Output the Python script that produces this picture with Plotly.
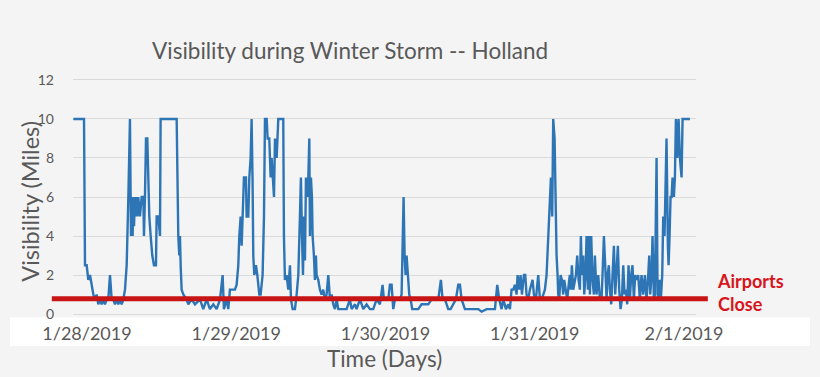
import plotly.graph_objects as go

# ---------------- data ----------------
# time in hours relative to 1/28/2019 00:00, visibility in miles
seg1_hours = [-2.2, -0.48, -0.32, -0.05, 0.21, 0.48, 0.75, 1.02, 1.29, 1.55,
              1.82, 2.09, 2.36, 2.63, 2.89, 3.16, 3.43, 3.70, 3.97, 4.23,
              4.50, 4.77, 5.04, 5.31, 5.57, 5.84, 6.11, 6.38, 6.65, 6.91,
              7.07, 7.18, 7.34, 7.45, 7.56, 7.72, 7.88, 7.98, 8.09, 8.25,
              8.52, 8.79, 9.06, 9.16, 9.32, 9.49, 9.70, 9.86, 10.02, 10.24,
              10.50, 10.77, 11.09, 11.20, 11.47, 11.74, 11.84, 14.42, 14.52, 14.68,
              14.84, 14.95, 15.06, 15.22, 15.49, 16.02, 16.29, 16.83, 17.36, 18.17,
              18.70, 19.24, 19.77, 20.31, 20.85, 21.39]
seg1_vis = [10, 10, 2.5, 2.5, 1.75, 2, 1.5, 1, 0.75, 1,
            0.5, 0.75, 0.5, 0.75, 0.5, 0.75, 0.75, 2, 0.75, 0.75,
            0.5, 0.75, 0.5, 0.75, 0.5, 0.75, 1.25, 2.5, 6, 10,
            4, 6, 4, 6, 4.5, 6, 5, 6, 5, 6,
            5, 6, 6, 4, 6, 9, 9, 7, 5, 4,
            3, 2.5, 2.5, 5, 5, 4, 10, 10, 6, 4,
            3, 4, 2.5, 1.25, 1, 0.75, 0.5, 0.75, 0.5, 0.75,
            0.25, 0.75, 0.25, 0.5, 0.25, 0.75]

seg2_hours = [21.81, 22.02, 22.45, 22.72, 22.99, 23.26, 23.79, 24.06, 24.33, 24.49,
              24.71, 24.87, 25.03, 25.24, 25.56, 25.67, 25.94, 26.10, 26.31, 26.47,
              26.63, 26.74, 26.90, 27.17, 27.39, 27.71, 27.92, 28.24, 28.46, 28.62,
              28.89, 29.05, 29.31, 29.53, 29.69, 29.85, 30.07, 30.23, 30.50, 30.76,
              31.56, 31.67, 31.83, 32.10, 32.37, 32.64, 32.80, 33.07, 33.44, 33.71,
              33.98, 34.24, 34.40, 34.57, 34.73, 34.89, 35.05, 35.21, 35.42, 35.59,
              35.75, 35.85, 36.01, 36.17, 36.28, 36.49, 36.65, 36.81, 36.92, 37.19,
              37.46, 37.73, 37.99, 38.26, 38.53, 38.80, 39.07, 39.33, 39.60, 39.87,
              40.14, 40.41, 40.68, 41.75, 42.28, 42.55, 43.09, 43.35, 43.89, 44.43,
              44.96, 45.50, 46.03, 46.57, 47.10]
seg2_vis = [2, 0.25, 0.75, 0.25, 1.25, 1.25, 1.25, 1.5, 2.5, 4,
            5, 3.5, 5, 7, 7, 5, 5, 7, 8, 10,
            6.7, 3, 2, 2.5, 2, 1, 1, 2, 5, 10,
            10, 9, 9, 7, 8, 7, 6, 9, 8, 10,
            10, 4, 1.75, 2, 1.25, 2.5, 0.75, 0.25, 0.25, 1,
            2, 5, 7, 4, 2, 5, 2.75, 7, 6, 7,
            9, 4, 7, 6, 4, 3, 1.75, 3, 2, 1.75,
            1.25, 1, 1.25, 0.75, 1, 2, 0.75, 1, 0.5, 0.25,
            0.75, 0.25, 0.25, 0.25, 0.75, 0.25, 0.5, 0.25, 0.75, 0.25,
            0.5, 0.25, 0.25, 0.75, 0.5]

seg3_hours = [47.53, 47.75, 48.18, 48.45, 48.71, 48.98, 49.25, 49.52, 50.06, 50.32,
              50.59, 50.75, 50.91, 51.07, 51.23, 51.39, 51.66, 51.82, 52.04, 52.30,
              52.73, 53.27, 53.80, 54.34, 54.88, 55.41, 55.95, 56.49, 56.91, 57.18,
              57.56, 58.09, 58.47, 58.90, 59.32, 59.70, 59.97, 60.24, 60.50, 60.77,
              61.31, 61.85, 62.38, 62.92, 63.45, 64.26, 65.07, 65.60, 65.97, 66.29,
              66.67, 66.94, 67.37, 67.74, 68.01, 68.27, 68.54, 68.81, 69.08, 69.24,
              69.51, 69.72, 69.94, 70.26, 70.47, 70.68, 70.95, 71.22, 71.65, 71.86,
              72.18, 72.56, 72.83]
seg3_vis = [1.5, 0.75, 0.75, 0.75, 1.5, 1.5, 0.25, 0.75, 0.75, 0.75,
            1, 3, 6, 3, 2, 3, 2, 1, 0.75, 0.25,
            0.25, 0.25, 0.5, 0.5, 0.5, 0.75, 0.75, 0.75, 1.75, 0.75,
            0.75, 0.25, 0.25, 0.5, 0.75, 1.5, 1.5, 0.75, 0.5, 0.25,
            0.25, 0.25, 0.25, 0.25, 0.12, 0.25, 0.25, 0.25, 1.5, 0.75,
            0.25, 0.75, 0.25, 0.5, 0.25, 1.25, 1.25, 1.5, 1, 2,
            1.25, 2, 1, 2, 2, 1, 0.75, 1.25, 1.75, 1,
            0.75, 2, 0.75]

seg4_hours = [73.10, 73.37, 73.63, 73.90, 74.17, 74.44, 74.60, 74.81, 74.97, 75.19,
              75.35, 75.51, 75.67, 75.78, 75.94, 76.15, 76.37, 76.58, 76.74, 76.96,
              77.22, 77.54, 77.65, 77.81, 77.97, 78.19, 78.46, 78.62, 78.83, 79.05,
              79.26, 79.42, 79.58, 79.80, 79.96, 80.17, 80.33, 80.55, 80.71, 80.87,
              81.08, 81.29, 81.51, 81.67, 81.94, 82.21, 82.48, 82.74, 82.90, 83.12,
              83.33, 83.55, 83.71, 83.92, 84.08, 84.30, 84.51, 84.73, 84.94, 85.15,
              85.37, 85.58, 85.80, 86.01, 86.23, 86.44, 86.65, 86.87, 87.08, 87.30,
              87.51, 87.72, 87.94, 88.15, 88.37, 88.64, 88.90, 89.17, 89.44, 89.71,
              89.98, 90.25, 90.41, 90.57, 90.78, 90.94, 91.16, 91.32, 91.48, 91.59,
              91.75, 91.96, 92.12, 92.28, 92.50, 92.66, 92.87, 93.03, 93.19, 93.41,
              93.52, 93.68, 93.84, 94.00, 94.16, 94.37, 94.54, 94.70, 94.91, 95.13,
              95.34, 95.61, 95.77, 96.95]
seg4_vis = [0.75, 1, 1.25, 2, 4, 6, 7, 5, 10, 9,
            5, 3, 2, 1, 0.75, 2, 1.75, 1, 1.75, 1.25,
            0.75, 1.75, 2, 1.25, 2.5, 1.25, 1.75, 2, 3, 1.75,
            1.25, 4, 2, 3, 1, 2, 4, 1.25, 4, 1,
            4, 1.75, 1, 3, 1, 2, 0.75, 0.75, 2, 4,
            2.5, 0.75, 2, 2.5, 1.25, 0.5, 2, 3.5, 1, 2,
            3.5, 1.25, 0.25, 0.75, 2.5, 1, 1.25, 0.5, 2.5, 0.75,
            2, 2.5, 0.75, 2, 1.75, 2, 0.75, 2, 1, 2,
            0.75, 2, 3, 1, 2, 4, 0.75, 1, 4, 8,
            1, 0.75, 1.75, 0.75, 2, 5, 4, 6, 9, 3.5,
            2.5, 4, 6, 6, 7, 6, 7, 10, 8, 10,
            8, 7, 10, 10]

tick_hours = [0, 24, 48, 72, 96]
tick_labels = ["1/28/2019", "1/29/2019", "1/30/2019", "1/31/2019", "2/1/2019"]
y_ticks = [0, 2, 4, 6, 8, 10, 12]
close_threshold = 0.78

hours = seg1_hours + seg2_hours + seg3_hours + seg4_hours
vis = seg1_vis + seg2_vis + seg3_vis + seg4_vis
assert len(hours) == len(vis)

# ---------------- figure ----------------
FONT = "Lato"
GREY = "#595959"
BG = "#f4f4f4"

fig = go.Figure()
fig.add_trace(go.Scatter(x=hours, y=vis, mode="lines",
                         line=dict(color="#2e75b6", width=2.4),
                         hoverinfo="x+y"))

fig.update_layout(
    width=820, height=377,
    margin=dict(l=73, r=124, t=78, b=61),
    paper_bgcolor=BG, plot_bgcolor=BG,
    showlegend=False,
    font=dict(family=FONT, color=GREY),
    xaxis=dict(range=[-2.25, 97.93], tickvals=tick_hours, ticktext=tick_labels,
               showgrid=False, zeroline=False, showline=False, ticks="",
               ticklabelstandoff=5,
               tickfont=dict(family=FONT, size=18, color=GREY)),
    yaxis=dict(range=[-0.1, 12.1], tickvals=y_ticks, showgrid=True,
               gridcolor="#dadada", gridwidth=1.3, zeroline=False, showline=False,
               ticks="", ticklabelstandoff=18,
               tickfont=dict(family=FONT, size=14, color=GREY)),
)

# white band behind the date labels
fig.add_shape(type="rect", xref="paper", yref="paper",
              x0=-0.101, x1=1.183, y0=-0.126, y1=-0.006,
              fillcolor="white", line=dict(width=0), layer="below")

# airports-close threshold line
fig.add_shape(type="line", xref="paper", yref="y",
              x0=-0.034, x1=1.019, y0=close_threshold, y1=close_threshold,
              line=dict(color="#c81414", width=5), layer="above")

fig.add_annotation(text="Visibility during Winter Storm -- Holland",
                   xref="paper", yref="paper", x=0.4446, y=1.117,
                   xanchor="center", yanchor="middle", showarrow=False,
                   font=dict(family=FONT, size=22.5, color=GREY))
fig.add_annotation(text="Visibility (Miles)", textangle=-90,
                   xref="paper", yref="paper", x=-0.069, y=0.48,
                   xanchor="center", yanchor="middle", showarrow=False,
                   font=dict(family=FONT, size=23.5, color=GREY))
fig.add_annotation(text="Time (Days)",
                   xref="paper", yref="paper", x=0.5008, y=-0.1786,
                   xanchor="center", yanchor="middle", showarrow=False,
                   font=dict(family=FONT, size=22.5, color=GREY))
fig.add_annotation(text="<b>Airports</b><br><b>Close</b>", align="left",
                   xref="paper", yref="paper", x=1.0305, y=0.0987,
                   xanchor="left", yanchor="middle", showarrow=False,
                   font=dict(family=FONT, size=18, color="#d8141c"))

fig.write_html("out.html",
               config={"displayModeBar": False},
               post_script="document.body.style.margin='0';"
                           "document.body.style.overflow='hidden';"
                           "document.body.style.background='#f4f4f4';")
